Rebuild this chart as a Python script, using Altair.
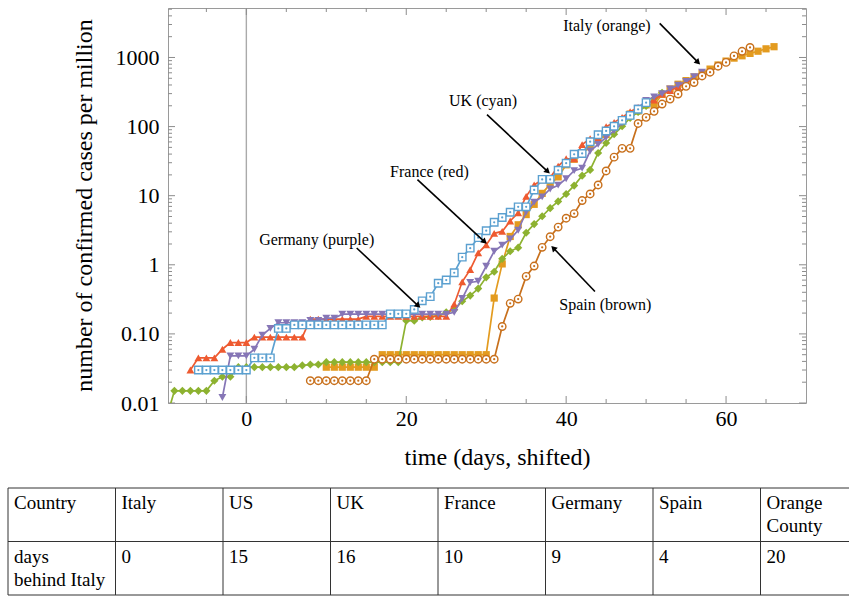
import altair as alt
import pandas as pd

SERIF = "Liberation Serif"

# ---------------- data (confirmed cases per million) ----------------
italy_start = 10
italy = [0.033, 0.033, 0.033, 0.033, 0.033, 0.033, 0.033,
         0.050, 0.050, 0.050, 0.050, 0.050, 0.050, 0.050, 0.050, 0.050, 0.050, 0.050, 0.050, 0.050, 0.050,
         0.33, 1.03, 2.57, 3.79, 5.33, 7.5, 10.8, 14.7, 18.7, 28.0, 33.7, 41.4, 51.1, 63.9, 76.8, 97.4,
         122, 152, 168, 206, 206, 292, 350, 410, 463, 522, 591, 679, 778, 887, 979, 1058, 1145, 1232,
         1334, 1432]

us_start = -10
us = [0.006,
      0.015, 0.015, 0.015, 0.015, 0.015,
      0.021, 0.024, 0.024,
      0.033, 0.033, 0.033, 0.033, 0.033, 0.033, 0.033, 0.033,
      0.035, 0.036, 0.036,
      0.039, 0.039, 0.039, 0.039, 0.039, 0.039, 0.039, 0.039, 0.039, 0.039,
      0.155, 0.155, 0.173, 0.176, 0.182, 0.206, 0.224, 0.297, 0.358, 0.452, 0.658, 0.794, 1.22, 1.57,
      1.77, 2.91, 3.88, 5.04, 6.60, 8.26, 10.6, 14.0, 19.5, 23.6, 41.5, 57.9, 77.3, 101, 133, 163,
      199, 254, 308]

uk_start = -6
uk = [0.030, 0.030, 0.030, 0.030, 0.030, 0.030, 0.030,
      0.045, 0.045, 0.045,
      0.120, 0.120,
      0.135, 0.135, 0.135, 0.135, 0.135, 0.135, 0.135, 0.135, 0.135, 0.135, 0.135, 0.135,
      0.195, 0.195, 0.195,
      0.226, 0.301, 0.346, 0.541, 0.602, 0.767, 1.29, 1.74, 2.47, 3.11, 4.12, 4.84, 5.77, 6.90,
      6.90, 12.1, 17.2, 17.2, 23.3, 29.5, 39.7, 40.8, 60.4, 76.2, 86.4, 101, 123, 145, 178, 222]

france_start = -7
france = [0.030,
          0.045, 0.045, 0.045,
          0.060,
          0.075, 0.075, 0.075,
          0.090, 0.090, 0.090, 0.090, 0.090, 0.090, 0.090,
          0.164, 0.164, 0.164, 0.164, 0.164, 0.164, 0.164,
          0.179, 0.179, 0.179, 0.179, 0.179, 0.179, 0.179, 0.179, 0.179, 0.179, 0.179,
          0.269, 0.567, 0.851, 1.49, 1.94, 2.85, 3.04, 4.30, 5.67, 9.79, 14.3, 17.0, 18.2, 26.8,
          34.2, 34.2, 54.9, 67.1, 67.6, 99.7, 115, 136, 164, 190, 216, 242, 296, 333, 377, 435, 492]

germany_start = -3
germany = [0.012,
           0.048, 0.048, 0.048,
           0.060, 0.096, 0.120,
           0.145, 0.145, 0.145, 0.145,
           0.157, 0.157,
           0.169, 0.169,
           0.193, 0.193, 0.193, 0.193, 0.193, 0.193, 0.193, 0.193, 0.193, 0.193, 0.193, 0.193, 0.193, 0.193,
           0.205, 0.325, 0.554, 0.578, 0.952, 1.57, 1.92, 2.36, 3.16, 5.81, 8.07, 9.63, 12.5, 14.2,
           17.6, 23.0, 25.0, 44.3, 55.2, 69.8, 87.6, 112, 149, 185, 239, 268, 300, 350, 397, 450,
           529, 613]

spain_start = 8
spain = [0.021, 0.021, 0.021, 0.021, 0.021, 0.021, 0.021, 0.021,
         0.043, 0.043, 0.043, 0.043, 0.043, 0.043, 0.043, 0.043,
         0.043, 0.043, 0.043, 0.043, 0.043, 0.043, 0.043, 0.043,
         0.128, 0.277, 0.319, 0.68, 0.96, 1.79, 2.55, 3.51, 4.72, 5.51, 8.51, 10.6, 14.3, 22.8,
         36.1, 48.4, 48.4, 111, 136, 166, 212, 250, 296, 382, 434, 540, 612, 748, 849, 1054,
         1229, 1398]

# drawing order (later on top)
series = [
    ("Italy", italy_start, italy),
    ("US", us_start, us),
    ("France", france_start, france),
    ("Germany", germany_start, germany),
    ("Spain", spain_start, spain),
    ("UK", uk_start, uk),
]

# annotations
ann_text = ["Italy (orange)", "UK (cyan)", "France (red)", "Germany (purple)", "Spain (brown)"]
ann_day = [45.1, 29.6, 22.9, 8.8, 44.9]
ann_val = [2810, 238, 22.3, 2.30, 0.263]
arr_day0 = [51.7, 30.1, 21.4, 13.8, 43.6]
arr_val0 = [3110, 149, 17.1, 1.75, 0.41]
arr_day1 = [56.5, 37.7, 29.8, 21.5, 38.4]
arr_val1 = [850, 22.3, 2.15, 0.255, 1.75]
arr_angle = [135, 133, 133, 133, 316]

# axes / ticks
x_major = [0, 20, 40, 60]
x_minor = [-5, 5, 10, 15, 25, 30, 35, 45, 50, 55, 65]
y_major = [0.01, 0.1, 1, 10, 100, 1000]
y_minor = [0.02, 0.03, 0.04, 0.05, 0.06, 0.07, 0.08, 0.09,
           0.2, 0.3, 0.4, 0.5, 0.6, 0.7, 0.8, 0.9,
           2, 3, 4, 5, 6, 7, 8, 9,
           20, 30, 40, 50, 60, 70, 80, 90,
           200, 300, 400, 500, 600, 700, 800, 900,
           2000, 3000, 4000, 5000]

# table
table_header = ["Country", "Italy", "US", "UK", "France", "Germany", "Spain", "Orange\nCounty"]
table_lag = ["days\nbehind Italy", "0", "15", "16", "10", "9", "4", "20"]

# ---------------- styles ----------------
STYLE = {
    "Italy": dict(color="#E39B1F", shape="square", open=False, size=52),
    "US": dict(color="#8DB230", shape="diamond", open=False, size=66),
    "France": dict(color="#EE5A30", shape="triangle-up", open=False, size=62),
    "Germany": dict(color="#8676B6", shape="triangle-down", open=False, size=62),
    "Spain": dict(color="#C8701C", shape="circle", open=True, size=56),
    "UK": dict(color="#5BA0D0", shape="square", open=True, size=56),
}

W, H = 638, 395

XS = alt.Scale(domain=[-9.8, 70], nice=False, zero=False)
YS = alt.Scale(type="log", domain=[0.01, 5200], nice=False)

X_AXIS = alt.Axis(values=x_major, format="d", domain=False, ticks=False, grid=False,
                  labelFont=SERIF, labelFontSize=22, labelColor="black", labelPadding=5,
                  title="time (days, shifted)", titleFont=SERIF, titleFontSize=24,
                  titleFontWeight="normal", titleColor="black", titleX=329, titleY=54,
                  titleBaseline="middle", titleAlign="center")
Y_AXIS = alt.Axis(values=y_major, domain=False, ticks=False, grid=False,
                  labelExpr="datum.value < 0.05 ? '0.01' : (datum.value < 0.5 ? '0.10' : format(datum.value, 'd'))",
                  labelFont=SERIF, labelFontSize=22, labelColor="black", labelPadding=9,
                  title="number of confirmed cases per million", titleFont=SERIF, titleFontSize=24,
                  titleFontWeight="normal", titleColor="black", titleX=-84, titleY=197,
                  titleAngle=270, titleBaseline="middle", titleAlign="center")


def X(field="day"):
    return alt.X(f"{field}:Q", scale=XS, axis=X_AXIS)


def Y(field="value"):
    return alt.Y(f"{field}:Q", scale=YS, axis=Y_AXIS)


layers = []

# vertical reference line at day 0
layers.append(alt.Chart(pd.DataFrame({"day": [0]})).mark_rule(color="#AAAAAA", strokeWidth=1.4)
              .encode(x=X()))

# inward frame ticks
ymaj = pd.DataFrame({"value": y_major})
ymin = pd.DataFrame({"value": y_minor})
xmaj = pd.DataFrame({"day": x_major})
xmin = pd.DataFrame({"day": x_minor})
TC = "#8C8C8C"
for df_, ln in ((ymaj, 7), (ymin, 4)):
    layers.append(alt.Chart(df_).mark_rule(color=TC, strokeWidth=1)
                  .encode(y=Y(), x=alt.value(0), x2=alt.value(ln)))
    layers.append(alt.Chart(df_).mark_rule(color=TC, strokeWidth=1)
                  .encode(y=Y(), x=alt.value(W - ln), x2=alt.value(W)))
for df_, ln in ((xmaj, 7), (xmin, 4)):
    layers.append(alt.Chart(df_).mark_rule(color=TC, strokeWidth=1)
                  .encode(x=X(), y=alt.value(0), y2=alt.value(ln)))
    layers.append(alt.Chart(df_).mark_rule(color=TC, strokeWidth=1)
                  .encode(x=X(), y=alt.value(H - ln), y2=alt.value(H)))

# series
for name, start, vals in series:
    st = STYLE[name]
    df = pd.DataFrame({"day": [start + i for i in range(len(vals))], "value": vals})
    base = alt.Chart(df)
    layers.append(base.mark_line(color=st["color"], strokeWidth=1.7, clip=True)
                  .encode(x=X(), y=Y()))
    if st["open"]:
        layers.append(base.mark_point(shape=st["shape"], filled=True, fill="white", stroke=st["color"],
                                      strokeWidth=1.4, size=st["size"], opacity=1, clip=True)
                      .encode(x=X(), y=Y()))
        layers.append(base.mark_point(shape="circle", filled=True, color=st["color"], size=5,
                                      opacity=1, clip=True)
                      .encode(x=X(), y=Y()))
    else:
        layers.append(base.mark_point(shape=st["shape"], filled=True, color=st["color"],
                                      size=st["size"], opacity=1, clip=True)
                      .encode(x=X(), y=Y()))

# annotations
adf = pd.DataFrame({"text": ann_text, "day": ann_day, "value": ann_val})
layers.append(alt.Chart(adf).mark_text(font=SERIF, fontSize=16, color="black", align="center",
                                       baseline="middle")
              .encode(x=X(), y=Y(), text="text:N"))
rdf = pd.DataFrame({"day": arr_day0, "value": arr_val0, "day2": arr_day1, "value2": arr_val1,
                    "angle": arr_angle})
layers.append(alt.Chart(rdf).mark_rule(color="black", strokeWidth=1.6)
              .encode(x=X(), y=Y(), x2="day2:Q", y2="value2:Q"))
layers.append(alt.Chart(rdf).mark_point(shape="triangle-up", filled=True, color="black", size=45,
                                        opacity=1)
              .encode(x=X("day2"), y=Y("value2"), angle=alt.Angle("angle:Q", scale=None)))

main = alt.layer(*layers)

# ---------------- table ----------------
TX = alt.Scale(domain=[0, 8], range=[-160, 700], nice=False, zero=False)
TY = alt.Scale(domain=[0, 2], range=[480, 587], nice=False, zero=False)

cells = pd.DataFrame({
    "col": list(range(8)) + list(range(8)),
    "row": [0] * 8 + [1] * 8,
    "label": table_header + table_lag,
})
vlines = pd.DataFrame({"col": list(range(9)), "r0": [0] * 9, "r1": [2] * 9})
hlines = pd.DataFrame({"row": [0, 1, 2], "c0": [0, 0, 0], "c1": [8, 8, 8]})

t_text = alt.Chart(cells).mark_text(font=SERIF, fontSize=19, color="black", align="left",
                                    baseline="top", dx=6, dy=6, lineBreak="\n", lineHeight=23) \
    .encode(x=alt.X("col:Q", scale=TX, axis=None), y=alt.Y("row:Q", scale=TY, axis=None), text="label:N")
t_v = alt.Chart(vlines).mark_rule(color="#333333", strokeWidth=1) \
    .encode(x=alt.X("col:Q", scale=TX, axis=None), y=alt.Y("r0:Q", scale=TY, axis=None), y2="r1:Q")
t_h = alt.Chart(hlines).mark_rule(color="#333333", strokeWidth=1) \
    .encode(x=alt.X("c0:Q", scale=TX, axis=None), x2="c1:Q", y=alt.Y("row:Q", scale=TY, axis=None))
table = alt.layer(t_v, t_h, t_text)

chart = alt.layer(main, table).resolve_scale(x="independent", y="independent").properties(
    width=W, height=H,
    autosize=alt.AutoSizeParams(type="none"),
    padding={"left": 168, "top": 8, "right": 849 - 168 - W, "bottom": 596 - 8 - H},
    background="white",
).configure_view(stroke="#9A9A9A", strokeWidth=1)

chart.save("out.html", embed_options={"renderer": "svg", "actions": False})
